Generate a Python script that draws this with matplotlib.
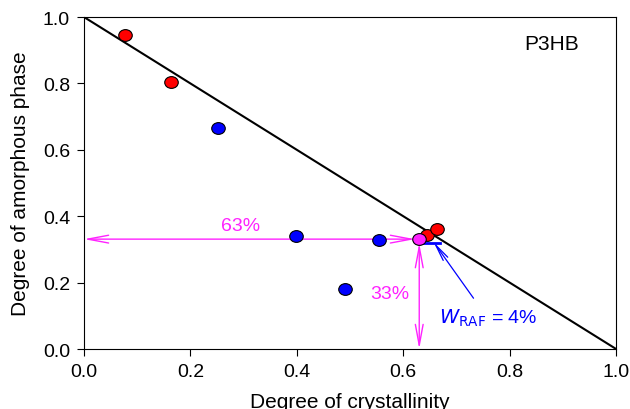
import matplotlib
matplotlib.use("Agg")
import matplotlib.pyplot as plt
import numpy as np
from matplotlib.path import Path

plt.rcParams["font.family"] = ["Liberation Sans", "DejaVu Sans"]

# data
red_x = [0.077, 0.164, 0.645, 0.664]
red_y = [0.946, 0.804, 0.343, 0.361]
blue_x = [0.252, 0.398, 0.555, 0.491]
blue_y = [0.666, 0.340, 0.328, 0.181]
mag_x = [0.630]
mag_y = [0.331]
crystal_pct = "63%"
amorph_pct = "33%"
raf_pct = "4%"

# slightly flattened circle as marker
circ = Path.unit_circle()
ell = Path(circ.vertices * np.array([1.15, 1.0]), circ.codes)

fig = plt.figure(figsize=(6.3, 4.1), dpi=100)
ax = fig.add_axes([0.1333, 0.1463, 0.8447, 0.8097])

ax.plot([0, 1], [1, 0], color="black", lw=1.5, zorder=2)

mk = dict(marker=ell, s=95, edgecolors="black", linewidths=0.8, zorder=4)
ax.scatter(red_x, red_y, c="red", **mk)
ax.scatter(blue_x, blue_y, c="blue", **mk)

# magenta double arrows
mc = "#ff22ff"
ax.annotate("", xy=(0.0, mag_y[0]), xytext=(mag_x[0] - 0.008, mag_y[0]),
            arrowprops=dict(arrowstyle="<->,head_length=1.5,head_width=0.28",
                            color=mc, lw=1.0, shrinkA=0, shrinkB=0), zorder=3)
ax.annotate("", xy=(mag_x[0], 0.0), xytext=(mag_x[0], mag_y[0] - 0.012),
            arrowprops=dict(arrowstyle="<->,head_length=1.5,head_width=0.28",
                            color=mc, lw=1.0, shrinkA=0, shrinkB=0), zorder=3)
ax.scatter(mag_x, mag_y, c=mc, **mk)
ax.text(0.295, 0.373, crystal_pct, color=mc, fontsize=14, ha="center", va="center")
ax.text(0.575, 0.168, amorph_pct, color=mc, fontsize=14, ha="center", va="center")

# W_RAF indicator
ax.plot([mag_x[0] + 0.008, 1 - mag_y[0]], [mag_y[0] - 0.012, mag_y[0] - 0.012],
        color="blue", lw=2, zorder=3)
ax.annotate("", xy=(0.657, 0.322), xytext=(0.732, 0.153),
            arrowprops=dict(arrowstyle="->,head_length=1.2,head_width=0.2",
                            color="blue", lw=0.9, shrinkA=0, shrinkB=0), zorder=3)
ax.text(0.667, 0.095, r"$\it{W}$" + r"$_{\rm RAF}$" + " = " + raf_pct,
        color="blue", fontsize=14, ha="left", va="center")

ax.text(0.93, 0.92, "P3HB", fontsize=15, ha="right", va="center")

ax.set_xlim(0, 1)
ax.set_ylim(0, 1)
ax.set_xticks(np.arange(0, 1.01, 0.2))
ax.set_yticks(np.arange(0, 1.01, 0.2))
ax.set_xticklabels([f"{v:.1f}" for v in np.arange(0, 1.01, 0.2)])
ax.set_yticklabels([f"{v:.1f}" for v in np.arange(0, 1.01, 0.2)])
ax.tick_params(direction="out", length=5, labelsize=14, pad=5)
ax.set_xlabel("Degree of crystallinity", fontsize=15, labelpad=9)
ax.set_ylabel("Degree of amorphous phase", fontsize=15, labelpad=9)

fig.savefig("out.png", dpi=100)
